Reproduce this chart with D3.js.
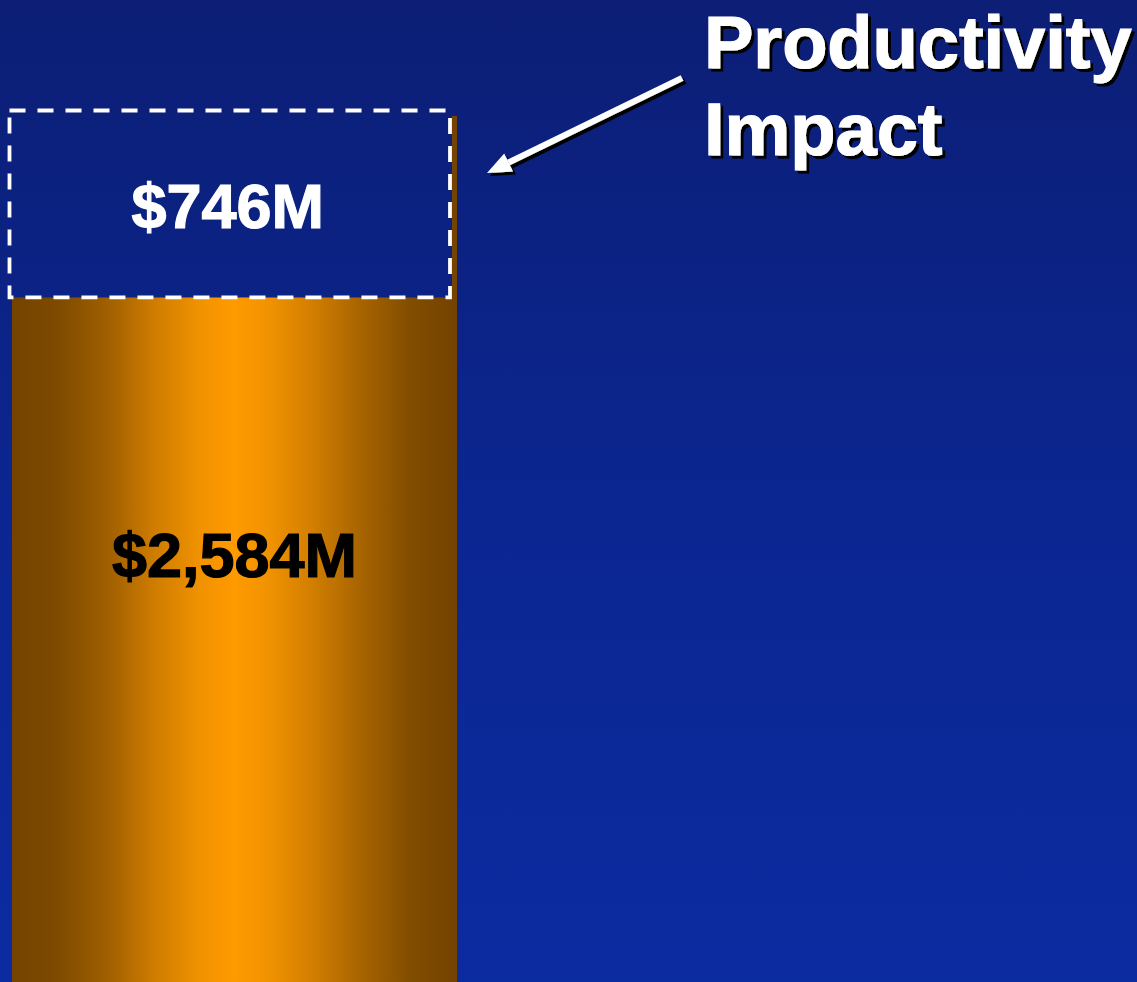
<!DOCTYPE html>
<html>
<head>
<meta charset="utf-8">
<script src="https://cdn.jsdelivr.net/npm/d3@7/dist/d3.min.js"></script>
<style>
html,body{margin:0;padding:0;background:#0b2590;overflow:hidden;}
svg{display:block;}
text{font-family:"Liberation Sans",Arial,Helvetica,sans-serif;font-weight:bold;}
</style>
</head>
<body>
<script>
// ---- data ----
const categories = ["Total"];
const segments = ["Current", "Productivity Impact"];
const values = [2584, 746];
const valueLabels = ["$2,584M", "$746M"];
const annotationLines = ["Productivity", "Impact"];

const W = 1137, H = 982;
const svg = d3.select("body").append("svg").attr("width", W).attr("height", H);
const defs = svg.append("defs");

const bg = defs.append("linearGradient").attr("id", "bg")
  .attr("gradientUnits", "userSpaceOnUse")
  .attr("x1", 0).attr("y1", 0).attr("x2", 0).attr("y2", H);
bg.append("stop").attr("offset", 0).attr("stop-color", "#0c1e75");
bg.append("stop").attr("offset", 0.5).attr("stop-color", "#0b2690");
bg.append("stop").attr("offset", 1).attr("stop-color", "#0b2ba0");

const og = defs.append("linearGradient").attr("id", "orange")
  .attr("x1", 0).attr("y1", 0).attr("x2", 1).attr("y2", 0);
[[0,"#744300"],[0.1,"#7c4a00"],[0.22,"#a26000"],[0.32,"#cf7c00"],[0.42,"#f09200"],[0.5,"#ff9a00"],
 [0.58,"#f09200"],[0.68,"#d07d00"],[0.78,"#a96500"],[0.9,"#7f4c00"],[1,"#744300"]]
  .forEach(([o,c]) => og.append("stop").attr("offset", o).attr("stop-color", c));

const shadow = defs.append("filter").attr("id", "shadow")
  .attr("x", "-10%").attr("y", "-10%").attr("width", "130%").attr("height", "130%");
shadow.append("feDropShadow").attr("dx", 3).attr("dy", 3).attr("stdDeviation", 0.4)
  .attr("flood-color", "#000").attr("flood-opacity", 1);

svg.append("rect").attr("width", W).attr("height", H).attr("fill", "url(#bg)");

const total = d3.sum(values);
const x = d3.scaleBand().domain(categories).range([12, 457]).padding(0);
const y = d3.scaleLinear().domain([0, total]).range([949, 110]);

const bx = x(categories[0]), bw = x.bandwidth();

// full bar behind (only its right edge peeks out next to the box)
svg.append("rect").attr("x", bx).attr("y", y(total) + 6).attr("width", bw)
  .attr("height", H - y(total) - 6).attr("fill", "url(#orange)");

// box covering the impact segment
const boxX = bx - 2.5, boxW = bw - 4.5;
const boxTop = y(total) + 0.5, boxBot = y(values[0]) - 0.5;
svg.append("rect").attr("x", boxX - 2).attr("y", boxTop - 2)
  .attr("width", boxW + 4).attr("height", boxBot - boxTop + 2)
  .attr("fill", "url(#bg)");
svg.append("rect").attr("x", boxX).attr("y", boxTop)
  .attr("width", boxW).attr("height", boxBot - boxTop)
  .attr("fill", "none").attr("stroke", "#ffffff").attr("stroke-width", 3.8)
  .attr("stroke-dasharray", "16,12");

// value labels
svg.append("text").attr("x", bx + bw / 2).attr("y", 577)
  .attr("text-anchor", "middle").attr("font-size", 63).attr("fill", "#000")
  .attr("stroke", "#000").attr("stroke-width", 1.2)
  .text(valueLabels[0]);
svg.append("text").attr("x", boxX + boxW / 2 - 2).attr("y", 228)
  .attr("text-anchor", "middle").attr("font-size", 63).attr("fill", "#fff")
  .attr("stroke", "#fff").attr("stroke-width", 1.2)
  .text(valueLabels[1]);

// annotation text with shadow
const ann = svg.append("g").attr("filter", "url(#shadow)");
annotationLines.forEach((t, i) => {
  ann.append("text").attr("x", 704).attr("y", 68 + i * 87)
    .attr("font-size", 74).attr("fill", "#fff")
    .attr("stroke", "#fff").attr("stroke-width", 1.2).text(t);
});

// arrow
function arrow(g, x1, y1, x2, y2, color) {
  const ang = Math.atan2(y2 - y1, x2 - x1);
  const L = 24, hw = 10;
  const bxp = x2 - L * Math.cos(ang), byp = y2 - L * Math.sin(ang);
  g.append("line").attr("x1", x1).attr("y1", y1).attr("x2", bxp).attr("y2", byp)
    .attr("stroke", color).attr("stroke-width", 6);
  const px = -Math.sin(ang), py = Math.cos(ang);
  g.append("path").attr("d", d3.line()([[x2, y2], [bxp + px * hw, byp + py * hw], [bxp - px * hw, byp - py * hw]]) + "Z")
    .attr("fill", color);
}
const ag = svg.append("g").attr("filter", "url(#shadow)");
arrow(ag, 682, 78, 487, 173, "#fff");
</script>
</body>
</html>
